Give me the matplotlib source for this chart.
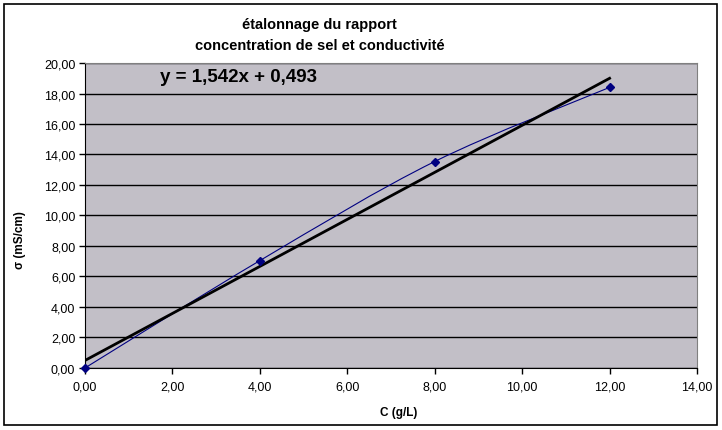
import numpy as np
import matplotlib
matplotlib.use('Agg')
import matplotlib.pyplot as plt
from matplotlib.path import Path
from matplotlib.patches import PathPatch, Rectangle
from matplotlib.ticker import FuncFormatter, MultipleLocator

# data
conc = [0.0, 4.0, 8.0, 12.0]
sigma = [0.0, 7.04, 13.54, 18.4]
slope = 1.542
intercept = 0.493

plt.rcParams['font.family'] = ['Liberation Sans', 'DejaVu Sans']

fig = plt.figure(figsize=(7.22, 4.31), dpi=100)
ax = fig.add_axes([0.1177, 0.1439, 0.8477, 0.7076])
ax.set_facecolor('#C2BFC7')

# frame around the whole chart
fig.patches.append(Rectangle((0.006, 0.012), 0.987, 0.976, transform=fig.transFigure,
                             fill=False, edgecolor='black', linewidth=1.2))

# smoothed line (Excel style, catmull-rom as bezier)
pts = np.column_stack([conc, sigma])
verts = [pts[0]]
codes = [Path.MOVETO]
for i in range(len(pts) - 1):
    p0 = pts[i - 1] if i > 0 else pts[i]
    p1 = pts[i]
    p2 = pts[i + 1]
    p3 = pts[i + 2] if i + 2 < len(pts) else pts[i + 1]
    c1 = p1 + (p2 - p0) / 6
    c2 = p2 - (p3 - p1) / 6
    verts += [c1, c2, p2]
    codes += [Path.CURVE4] * 3
ax.add_patch(PathPatch(Path(verts, codes), fill=False, edgecolor='#000080', linewidth=0.8, zorder=3))

# trendline
xt = np.array([conc[0], conc[-1]])
ax.plot(xt, slope * xt + intercept, color='black', linewidth=2, zorder=4)

ax.plot(conc, sigma, linestyle='none', marker='D', markersize=4, color='#000080', zorder=5, clip_on=False)

ax.set_xlim(0, 14)
ax.set_ylim(0, 20)
ax.xaxis.set_major_locator(MultipleLocator(2))
ax.yaxis.set_major_locator(MultipleLocator(2))
fmt = FuncFormatter(lambda v, p: ('%.2f' % v).replace('.', ','))
ax.xaxis.set_major_formatter(fmt)
ax.yaxis.set_major_formatter(fmt)
ax.grid(axis='y', color='black', linewidth=1)
ax.set_axisbelow(True)
ax.tick_params(labelsize=9, length=4, width=1, direction='out', pad=3)
ax.tick_params(axis='x', pad=5)

for s in ['top', 'right']:
    ax.spines[s].set_color('#808080')
for s in ['left', 'bottom']:
    ax.spines[s].set_color('black')

ax.set_xlabel('C (g/L)', fontsize=8.5, fontweight='bold')
ax.set_ylabel('σ (mS/cm)', fontsize=8.5, fontweight='bold')
ax.xaxis.set_label_coords(0.513, -0.125)
ax.yaxis.set_label_coords(-0.097, 0.423)

fig.text(0.443, 0.918, 'étalonnage du rapport\nconcentration de sel et conductivité',
         ha='center', va='center', fontsize=10.5, fontweight='bold', linespacing=1.6)

ax.text(0.122, 0.955, 'y = 1,542x + 0,493', transform=ax.transAxes,
        fontsize=13.5, fontweight='bold', va='center', ha='left')

fig.savefig('out.png', dpi=100)
